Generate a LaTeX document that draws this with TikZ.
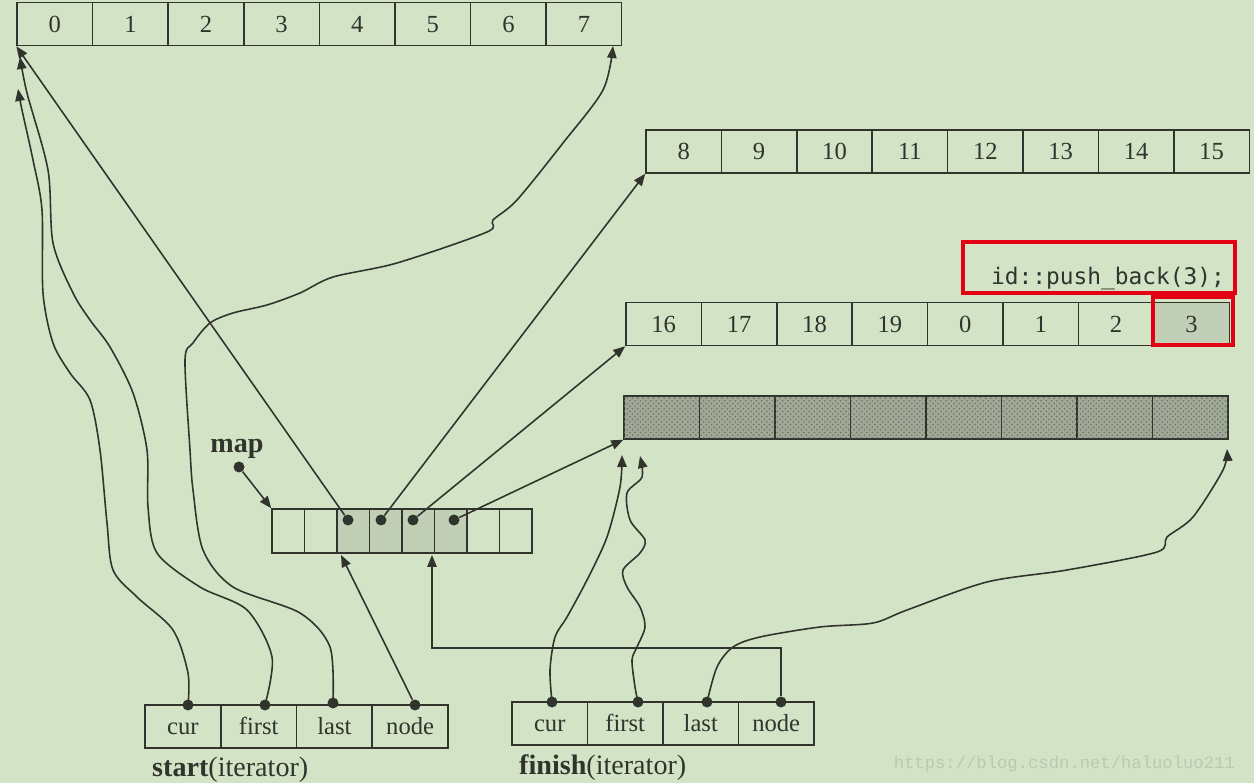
\documentclass[tikz,border=0pt]{standalone}
\usepackage{fontspec}
\setmainfont{Liberation Serif}
\newfontfamily\codefont{DejaVu Sans Mono}
\newfontfamily\urlfont{Liberation Mono}
\usetikzlibrary{arrows.meta,patterns}
\definecolor{bg}{RGB}{211,228,198}
\definecolor{ink}{RGB}{48,52,45}
\definecolor{used}{RGB}{192,207,182}
\definecolor{hatch}{RGB}{160,168,150}
\definecolor{hilite}{RGB}{226,0,18}
\definecolor{wm}{RGB}{186,201,178}
\tikzset{
  cell/.style={draw=ink, line width=0.85pt, minimum width=1.51cm, minimum height=0.86cm, inner sep=0pt, text=ink, text height=9.5pt, text depth=0pt, font=\fontsize{14}{16}\selectfont},
  mapcell/.style={cell, minimum width=0.65cm, minimum height=0.88cm},
  dot/.style={circle, fill=ink, inner sep=0pt, minimum size=0.22cm},
  ptr/.style={draw=ink, line width=0.9pt, -{Triangle[length=0.24cm,width=0.19cm]}},
  lbl/.style={text=ink, font=\fontsize{16}{18}\selectfont},
  redbox/.style={draw=hilite, line width=1.8pt}
}
\begin{document}
\begin{tikzpicture}[x=0.02cm, y=-0.02cm]
\useasboundingbox[fill=bg] (0,0) rectangle (1254,783);

% buffers
\foreach \v [count=\i from 0] in {0,...,7}
  \node[cell] (a\i) at ({17+75.6*(\i+0.5)}, 24) {\v};
\foreach \v [count=\i from 0] in {8,...,15}
  \node[cell] (b\i) at ({646+75.4*(\i+0.5)}, 151.5) {\v};
\foreach \v [count=\i from 0] in {16,17,18,19,0,1,2}
  \node[cell] (c\i) at ({626+75.4*(\i+0.5)}, 324) {\v};
\node[cell, fill=used] (c7) at ({626+75.4*7.5}, 324) {3};
\foreach \i in {0,...,7}
  \node[cell, fill=hatch, postaction={pattern=crosshatch dots, pattern color=ink!70}] (d\i) at ({624+75.5*(\i+0.5)}, 417.5) {};

% map
\foreach \i/\f in {0/bg,1/bg,2/used,3/used,4/used,5/used,6/bg,7/bg}
  \node[mapcell, fill=\f] (m\i) at ({272+32.5*(\i+0.5)}, 531) {};
\node[lbl, font=\bfseries\fontsize{16}{18}\selectfont] (maplbl) at (237,449) {map};
\node[dot] (mapp) at (239,467) {};

% iterators
\foreach \t [count=\i from 0] in {cur,first,last,node}
  \node[cell] (s\i) at ({145+75.75*(\i+0.5)}, 726.5) {\t};
\foreach \t [count=\i from 0] in {cur,first,last,node}
  \node[cell] (f\i) at ({512+75.5*(\i+0.5)}, 723.5) {\t};
\node[lbl, anchor=base west] (slbl) at (146,776) {\textbf{start}(iterator)};
\node[lbl, anchor=base west] (flbl) at (513,774) {\textbf{finish}(iterator)};

\node[dot] (scur) at (188,705) {};
\node[dot] (sfirst) at (265,705) {};
\node[dot] (slast) at (333,703) {};
\node[dot] (snode) at (415,705) {};
\node[dot] (fcur) at (552,702) {};
\node[dot] (ffirst) at (638,702) {};
\node[dot] (flast) at (707,702) {};
\node[dot] (fnode) at (781,702) {};

\node[dot] (p2) at (348,520) {};
\node[dot] (p3) at (381,520) {};
\node[dot] (p4) at (413,520) {};
\node[dot] (p5) at (454,520) {};

\coordinate (a0cur) at (18,89);
\coordinate (a0first) at (20,57);
\coordinate (a7last) at (613,46);
\coordinate (d0cur) at (622,455);
\coordinate (d0first) at (640,456);
\coordinate (d7last) at (1227,449);
\coordinate (mapin) at (432,555);
\coordinate (bend) at (781,648);
\coordinate (mapnode) at (341,555);

% map -> buffers
\draw[ptr] (mapp) -- (m0.north west);
\draw[ptr] (p2) -- (a0.south west);
\draw[ptr] (p3) -- (b0.south west);
\draw[ptr] (p4) -- (c0.south west);
\draw[ptr] (p5) -- (d0.south west);

% start
\draw[ptr] plot[smooth] coordinates {(scur) (188,673) (173,630) (137,597) (113,570) (107,523) (100,450) (90,400) (70,373) (53,343) (43,293) (42,210) (33,160) (22,110) (a0cur)};
\draw[ptr] plot[smooth] coordinates {(sfirst) (272,657) (247,610) (200,587) (157,553) (148,507) (147,450) (133,393) (110,347) (90,320) (73,293) (53,243) (48,170) (27,93) (a0first)};
\draw[ptr] plot[smooth] coordinates {(slast) (330,647) (300,613) (233,587) (203,550) (193,490) (190,450) (185,360) (193,343) (210,323) (233,313) (267,305) (300,293) (333,277) (397,263) (487,232) (493,220) (517,200) (563,143) (603,90) (a7last)};
\draw[ptr] (snode) -- (mapnode);

% finish
\draw[ptr] plot[smooth] coordinates {(fcur) (550,670) (555,637) (567,617) (587,580) (607,537) (620,487) (d0cur)};
\draw[ptr] plot[smooth] coordinates {(ffirst) (635,687) (632,660) (637,647) (645,627) (640,607) (627,587) (623,570) (640,553) (645,540) (630,520) (627,493) (642,477) (d0first)};
\draw[ptr] plot[smooth] coordinates {(flast) (717,667) (733,647) (760,637) (820,627) (873,623) (907,610) (987,582) (1067,570) (1157,552) (1167,537) (1193,517) (1223,470) (d7last)};
\draw[ptr] (fnode) -- (bend) -| (mapin);

% push_back
\node[anchor=base east, text=ink, font=\codefont\fontsize{13}{15}\selectfont] (code) at (1231,285) {id::push\_back(3);};
\draw[redbox] (963,242) rectangle (1235,293);
\draw[redbox] (1153,297) rectangle (1233,345);

\node[anchor=base east, text=wm, font=\urlfont\fontsize{9.8}{12}\selectfont] (wmark) at (1241,768) {https://blog.csdn.net/haluoluo211};
\end{tikzpicture}
\end{document}
